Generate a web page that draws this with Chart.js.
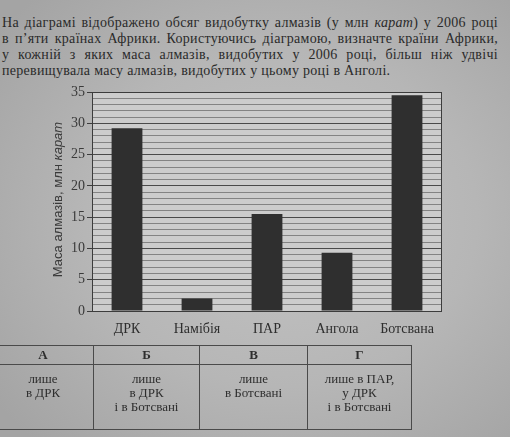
<!DOCTYPE html>
<html lang="uk">
<head>
<meta charset="utf-8">
<script src="https://cdn.jsdelivr.net/npm/chart.js@4.4.1/dist/chart.umd.min.js"></script>
<style>
  html,body{margin:0;padding:0;}
  body{width:510px;height:437px;overflow:hidden;position:relative;
       background:radial-gradient(ellipse 70% 70% at 55% 50%, #c3c3c3 0%, #b6b6b6 55%, #a4a4a4 100%);
       font-family:"Liberation Serif","DejaVu Serif",serif;color:#2a2a2a;}
  #wrap{position:absolute;left:0;top:0;width:510px;height:437px;}
  #txt{position:absolute;left:2px;top:15px;width:496px;font-size:14px;line-height:16px;letter-spacing:0.3px;}
  #txt div{text-align:justify;text-align-last:justify;white-space:nowrap;}
  #txt div.last{text-align-last:left;}
  table{position:absolute;left:-8px;top:345px;border-collapse:collapse;font-size:13px;color:#2e2e2e;}
  td,th{border:1px solid #4a4a4a;text-align:center;padding:0;}
  th{height:18px;font-weight:bold;font-size:13px;}
  td{height:57px;vertical-align:top;line-height:14px;padding-top:7px;}
</style>
</head>
<body>
<div id="txt">
  <div>На діаграмі відображено обсяг видобутку алмазів (у млн <i>карат</i>) у 2006 році</div>
  <div>в п’яти країнах Африки. Користуючись діаграмою, визначте країни Африки,</div>
  <div>у кожній з яких маса алмазів, видобутих у 2006 році, більш ніж удвічі</div>
  <div class="last">перевищувала масу алмазів, видобутих у цьому році в Анголі.</div>
</div>
<div id="wrap"><canvas id="c" width="510" height="437"></canvas></div>
<table>
  <tr><th style="width:100px">А</th><th style="width:105px">Б</th><th style="width:107px">В</th><th style="width:103px">Г</th></tr>
  <tr><td>лише<br>в ДРК</td><td>лише<br>в ДРК<br>і в Ботсвані</td><td>лише<br>в Ботсвані</td><td>лише в ПАР,<br>у ДРК<br>і в Ботсвані</td></tr>
</table>
<script>
const countries = ["ДРК", "Намібія", "ПАР", "Ангола", "Ботсвана"];
const diamonds2006 = [29.2, 2, 15.5, 9.3, 34.5];
const yTickValues = [0, 5, 10, 15, 20, 25, 30, 35];
const yTitleMain = "Маса алмазів, млн ";
const yTitleItalic = "карат";

const frame = {
  id: "frame",
  beforeDraw(chart) {
    const {ctx, chartArea: a} = chart;
    ctx.save();
    ctx.fillStyle = "#cccccc";
    ctx.fillRect(a.left, a.top, a.right - a.left, a.bottom - a.top);
    ctx.restore();
  },
  afterDraw(chart) {
    const {ctx, chartArea: a} = chart;
    ctx.save();
    ctx.strokeStyle = "#3c3c3c";
    ctx.lineWidth = 1;
    ctx.strokeRect(a.left + 0.5, a.top + 0.5, a.right - a.left - 1, a.bottom - a.top);
    ctx.translate(58, (a.top + a.bottom) / 2 - 2);
    ctx.rotate(-Math.PI / 2);
    ctx.fillStyle = "#3a3a3a";
    ctx.textBaseline = "middle";
    const f1 = "13px 'Liberation Sans', Arial, sans-serif";
    const f2 = "italic 13px 'Liberation Sans', Arial, sans-serif";
    ctx.font = f1; const w1 = ctx.measureText(yTitleMain).width;
    ctx.font = f2; const w2 = ctx.measureText(yTitleItalic).width;
    const x0 = -(w1 + w2) / 2;
    ctx.font = f1; ctx.textAlign = "left"; ctx.fillText(yTitleMain, x0, 0);
    ctx.font = f2; ctx.fillText(yTitleItalic, x0 + w1, 0);
    ctx.restore();
  }
};

new Chart(document.getElementById("c"), {
  type: "bar",
  data: {
    labels: countries,
    datasets: [{
      data: diamonds2006,
      backgroundColor: "#2f2f2f",
      borderWidth: 0,
      categoryPercentage: 1,
      barPercentage: 0.44
    }]
  },
  options: {
    responsive: false,
    animation: false,
    devicePixelRatio: 1,
    layout: {padding: {left: 0, right: 68, top: 92, bottom: 100}},
    plugins: {legend: {display: false}, tooltip: {enabled: false}},
    scales: {
      x: {
        grid: {display: false},
        border: {display: false},
        ticks: {color: "#2e2e2e", font: {family: "'Liberation Serif', serif", size: 14}, padding: 2},
        afterFit(s) { s.height = 26; }
      },
      y: {
        min: 0, max: 35,
        border: {display: false},
        grid: {
          color: (c) => (c.tick && yTickValues.includes(c.tick.value)) ? "#4a4a4a" : "#707070",
          lineWidth: (c) => (c.tick && yTickValues.includes(c.tick.value)) ? 1 : 0.8,
          tickLength: 5,
          tickColor: (c) => (c.tick && yTickValues.includes(c.tick.value)) ? "#3c3c3c" : "rgba(0,0,0,0)"
        },
        ticks: {
          stepSize: 1,
          autoSkip: false,
          color: "#3a3a3a",
          font: {family: "'Liberation Serif', serif", size: 14},
          padding: 2,
          callback: (v) => yTickValues.includes(v) ? String(v) : ""
        },
        afterFit(s) { s.width = 92; }
      }
    }
  },
  plugins: [frame]
});
</script>
</body>
</html>
